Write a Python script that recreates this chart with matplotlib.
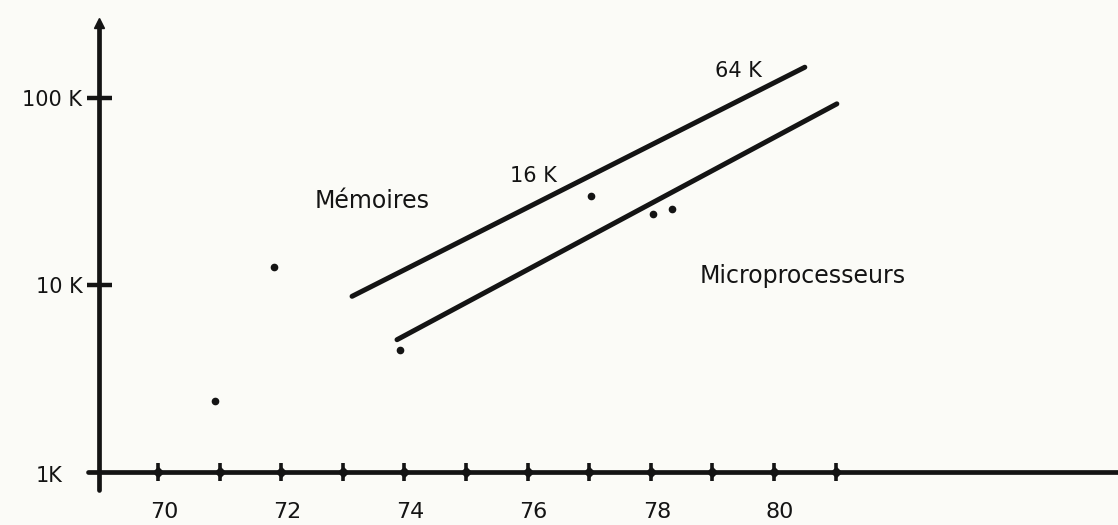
import numpy as np
import matplotlib
matplotlib.use('Agg')
import matplotlib.pyplot as plt
from matplotlib.transforms import blended_transform_factory, ScaledTranslation

# memoires (upper line) and microprocesseurs (lower line), values in K
mem_years = [73.15, 80.5]
mem_vals = [8.7, 146]
mpu_years = [73.88, 81.02]
mpu_vals = [5.1, 93]

# isolated dots
dot_years = [70.93, 71.88, 73.93, 77.03, 78.04, 78.34]
dot_vals = [2.4, 12.5, 4.5, 29.9, 24, 25.5]

tick_years = list(range(70, 82))
label_years = [70, 72, 74, 76, 78, 80]
ytick_vals = [10, 100]
ytick_labels = ['10 K', '100 K']

ink = '#141414'
bg = '#fbfbf7'

fig = plt.figure(figsize=(11.18, 5.25), dpi=100, facecolor=bg)
ax = fig.add_axes([0, 0, 1, 1], facecolor=bg)
ax.set_yscale('log')
ax.set_xlim(67.435, 85.584)
ax.set_ylim(0.521, 334)

ax.plot(mem_years, mem_vals, color=ink, lw=3.6, solid_capstyle='round')
ax.plot(mpu_years, mpu_vals, color=ink, lw=3.6, solid_capstyle='round')
ax.plot(dot_years, dot_vals, 'o', color=ink, ms=4.5)

# axes drawn as crossing lines
for s in ['top', 'right']:
    ax.spines[s].set_visible(False)
ax.spines['left'].set_position(('axes', 99 / 1118))
ax.spines['left'].set_bounds(0.80, 251)
ax.spines['bottom'].set_position(('data', 1))
ax.spines['bottom'].set_bounds(68.86, 85.6)
for s in ['left', 'bottom']:
    ax.spines[s].set_linewidth(3.4)
    ax.spines[s].set_color(ink)
    ax.spines[s].set_capstyle('round')
ax.plot([99 / 1118], [1 - 23 / 525], marker='^', ms=7, color=ink,
        transform=ax.transAxes, clip_on=False)

ax.set_xticks(label_years)
ax.set_xticklabels([str(y) for y in label_years])
ax.set_xticks(tick_years, minor=True)
ax.tick_params(axis='x', which='both', direction='inout', length=13, width=2.6,
               color=ink, labelsize=16, pad=15, labelcolor=ink)
shift = ScaledTranslation(6 / 100, 0, fig.dpi_scale_trans)
for lab in ax.get_xticklabels():
    lab.set_transform(lab.get_transform() + shift)
ax.plot(tick_years, [1] * len(tick_years), 'D', color=ink, ms=5, clip_on=False)

ax.set_yticks(ytick_vals)
ax.set_yticklabels(ytick_labels)
ax.yaxis.set_minor_locator(matplotlib.ticker.NullLocator())
ax.tick_params(axis='y', which='major', direction='inout', length=18, width=3.2,
               color=ink, labelsize=15, pad=3, labelcolor=ink)
trans = blended_transform_factory(ax.transAxes, ax.transData)
ax.text(63 / 1118, 0.95, '1K', transform=trans, ha='right', va='center',
        fontsize=15, color=ink)

ax.text(73.47, 25.8, 'Mémoires', ha='center', va='baseline', fontsize=17, color=ink)
ax.text(76.09, 35.6, '16 K', ha='center', va='baseline', fontsize=15, color=ink)
ax.text(79.43, 129, '64 K', ha='center', va='baseline', fontsize=15, color=ink)
ax.text(80.47, 10.2, 'Microprocesseurs', ha='center', va='baseline', fontsize=17, color=ink)

plt.savefig('out.png', dpi=100, facecolor=bg)
